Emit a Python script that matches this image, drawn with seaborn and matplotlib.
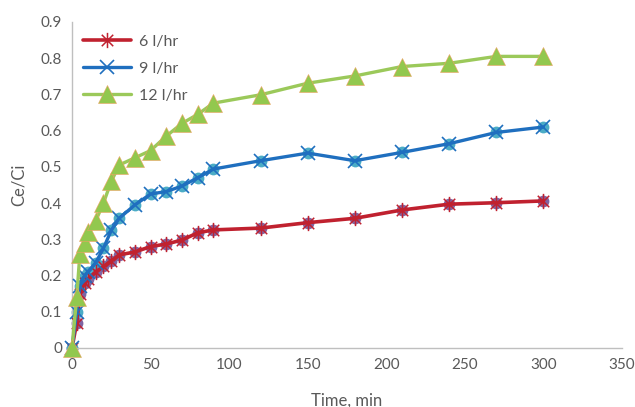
import numpy as np
import matplotlib
matplotlib.use("Agg")
import matplotlib.pyplot as plt
from matplotlib.path import Path
import seaborn as sns

# Sampling times (min)
time_min = [0, 3, 5, 8, 10, 15, 20, 25, 30, 40, 50, 60, 70, 80, 90,
            120, 150, 180, 210, 240, 270, 300]

# Ce/Ci for each flow rate
flow_6 = [0, 0.07, 0.15, 0.18, 0.19, 0.21, 0.225, 0.24, 0.257, 0.265, 0.28,
          0.287, 0.298, 0.318, 0.326, 0.331, 0.346, 0.358, 0.381, 0.397, 0.401, 0.406]
flow_9 = [0, 0.10, 0.17, 0.20, 0.21, 0.235, 0.275, 0.325, 0.358, 0.395, 0.425,
          0.432, 0.447, 0.47, 0.494, 0.517, 0.538, 0.517, 0.54, 0.564, 0.595, 0.61]
flow_12 = [0, 0.14, 0.26, 0.29, 0.32, 0.35, 0.40, 0.46, 0.505, 0.525, 0.545,
           0.585, 0.62, 0.645, 0.676, 0.699, 0.731, 0.751, 0.777, 0.786, 0.805, 0.805]

labels = ["6 l/hr", "9 l/hr", "12 l/hr"]
x_ticks = [0, 50, 100, 150, 200, 250, 300, 350]
y_ticks = [0, 0.1, 0.2, 0.3, 0.4, 0.5, 0.6, 0.7, 0.8, 0.9]

sns.set_theme(style="white")
plt.rcParams["font.family"] = ["Lato", "DejaVu Sans"]

fig = plt.figure(figsize=(6.35, 4.07), dpi=100)
ax = fig.add_axes([0.1134, 0.145, 0.8661, 0.801])

# asterisk-style marker: vertical stroke plus an X
star = Path([(0, -1), (0, 1), (-0.75, -0.75), (0.75, 0.75), (-0.75, 0.75), (0.75, -0.75)],
            [Path.MOVETO, Path.LINETO, Path.MOVETO, Path.LINETO, Path.MOVETO, Path.LINETO])

red = "#C0212F"
blue = "#1F6FBF"
green = "#9BC95A"

# 6 l/hr
sns.lineplot(x=time_min, y=flow_6, ax=ax, color=red, linewidth=2.6, label=labels[0],
             marker=star, markersize=11, markeredgecolor=red, markeredgewidth=1.1,
             markerfacecolor="none", zorder=3, clip_on=False)
ax.plot(time_min, flow_6, linestyle="none", marker="o", markersize=8.5,
        markerfacecolor="#8064A2", markeredgecolor="none", zorder=2.5, clip_on=False)

# 9 l/hr
sns.lineplot(x=time_min, y=flow_9, ax=ax, color=blue, linewidth=2.4, label=labels[1],
             marker="x", markersize=9.5, markeredgecolor=blue, markeredgewidth=1.2,
             zorder=3, clip_on=False)
ax.plot(time_min, flow_9, linestyle="none", marker="o", markersize=8.5,
        markerfacecolor="#4BACC6", markeredgecolor="none", zorder=2.5, clip_on=False)

# 12 l/hr
sns.lineplot(x=time_min, y=flow_12, ax=ax, color=green, linewidth=2.4, label=labels[2],
             marker="^", markersize=13, markerfacecolor="#92C84E",
             markeredgecolor="#F0A060", markeredgewidth=0.4, zorder=3, clip_on=False)

ax.set_xlim(0, 350)
ax.set_ylim(0, 0.9)
ax.set_xticks(x_ticks)
ax.set_yticks(y_ticks)
ax.set_yticklabels(["0" if v == 0 else f"{v:.1f}" for v in y_ticks])
ax.tick_params(axis="both", length=0, labelsize=11, labelcolor="#595959", pad=7)

for side in ["top", "right"]:
    ax.spines[side].set_visible(False)
for side in ["left", "bottom"]:
    ax.spines[side].set_color("#BFBFBF")
    ax.spines[side].set_linewidth(1.0)

ax.set_xlabel("Time, min", fontsize=12, color="#595959", labelpad=15)
ax.set_ylabel("Ce/Ci", fontsize=12, color="#595959", labelpad=10)

leg = ax.legend(loc="upper left", bbox_to_anchor=(0.0, 0.995), frameon=False,
                fontsize=11.5, handlelength=3.0, handletextpad=0.5,
                labelspacing=0.8, borderaxespad=0.3)
for txt in leg.get_texts():
    txt.set_color("#595959")

fig.savefig("out.png", dpi=100)
